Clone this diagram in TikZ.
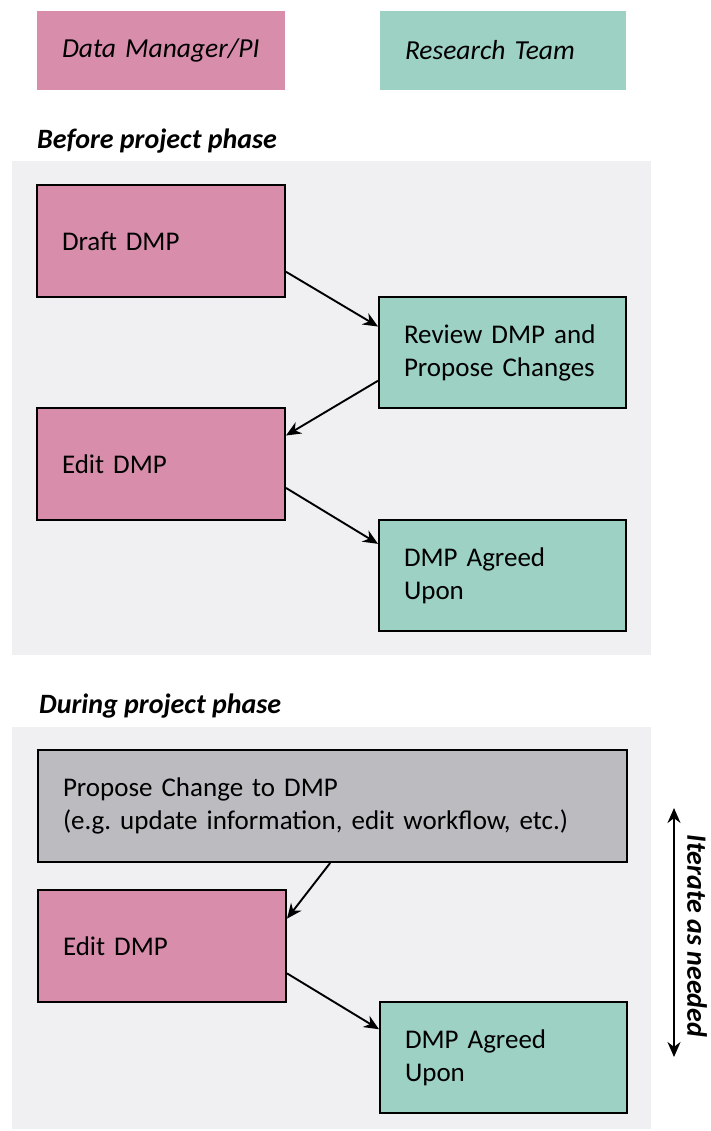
\documentclass[tikz,border=0pt]{standalone}
\usepackage{fontspec}
\setmainfont{Carlito}
\frenchspacing
\usetikzlibrary{arrows.meta,calc}
\definecolor{pinkc}{RGB}{216,142,170}
\definecolor{tealc}{RGB}{157,209,195}
\definecolor{grayc}{RGB}{188,188,192}
\definecolor{panelc}{RGB}{240,240,242}
\begin{document}
\begin{tikzpicture}[x=1pt,y=-1pt,
  every node/.style={font=\fontsize{27}{33}\selectfont},
  legendbox/.style={rectangle, minimum height=79pt, inner xsep=25pt, inner ysep=0pt, align=left, font=\fontsize{27.5}{33}\selectfont\itshape},
  flowbox/.style={rectangle, draw=black, line width=2pt, inner xsep=25pt, inner ysep=0pt, minimum height=111pt, align=left},
  phasetitle/.style={anchor=west, inner sep=0pt, font=\fontsize{28}{33}\selectfont\bfseries\itshape},
  panel/.style={fill=panelc, draw=none},
  flowarrow/.style={line width=1.9pt, -{Stealth[length=15pt,width=13pt]}}
]
\useasboundingbox (0,0) rectangle (711,1131);
\fill[white] (0,0) rectangle (711,1131);

% legend
\node[legendbox, fill=pinkc, text width=198pt] (lgpi) at (161,50.5) {Data Manager/PI};
\node[legendbox, fill=tealc, text width=196pt] (lgrt) at (503,50.5) {Research Team};

% before phase
\node[phasetitle] (t1) at (37,141) {Before project phase};
\fill[panel] (12,161) rectangle (651,655);
\node[flowbox, fill=pinkc, text width=198pt, minimum height=112pt] (draft) at (161,241) {Draft DMP};
\node[flowbox, fill=tealc, text width=197pt] (review) at (502.5,352.5) {Review DMP and\\Propose Changes};
\node[flowbox, fill=pinkc, text width=198pt, minimum height=112pt] (edita) at (161,464) {Edit DMP};
\node[flowbox, fill=tealc, text width=197pt] (agreeda) at (502.5,575.5) {DMP Agreed\\Upon};

\draw[flowarrow] ($(draft.north east)!0.77!(draft.south east)$) -- ($(review.north west)!0.27!(review.south west)$);
\draw[flowarrow] ($(review.north west)!0.75!(review.south west)$) -- ($(edita.north east)!0.25!(edita.south east)$);
\draw[flowarrow] ($(edita.north east)!0.71!(edita.south east)$) -- ($(agreeda.north west)!0.22!(agreeda.south west)$);

% during phase
\node[phasetitle] (t2) at (39,706) {During project phase};
\fill[panel] (12,727) rectangle (651,1129);
\node[flowbox, fill=grayc, text width=539pt, minimum height=112pt] (propose) at (332.5,806) {Propose Change to DMP\\(e.g. update information, edit workflow, etc.)};
\node[flowbox, fill=pinkc, text width=198pt, minimum height=112pt] (editb) at (162,946) {Edit DMP};
\node[flowbox, fill=tealc, text width=197pt] (agreedb) at (503.5,1057.5) {DMP Agreed\\Upon};

\draw[flowarrow] ($(propose.south west)!0.496!(propose.south east)$) -- ($(editb.north east)!0.26!(editb.south east)$);
\draw[flowarrow] ($(editb.north east)!0.74!(editb.south east)$) -- ($(agreedb.north west)!0.25!(agreedb.south west)$);

% iterate
\coordinate (itop) at (674,808);
\coordinate (ibot) at (674,1057);
\draw[line width=1.9pt, {Stealth[length=15pt,width=13pt]}-{Stealth[length=15pt,width=13pt]}] (itop) -- (ibot);
\node[rotate=-90, inner sep=0pt, font=\fontsize{28}{33}\selectfont\bfseries\itshape] (iter) at (697,936) {Iterate as needed};
\end{tikzpicture}
\end{document}
